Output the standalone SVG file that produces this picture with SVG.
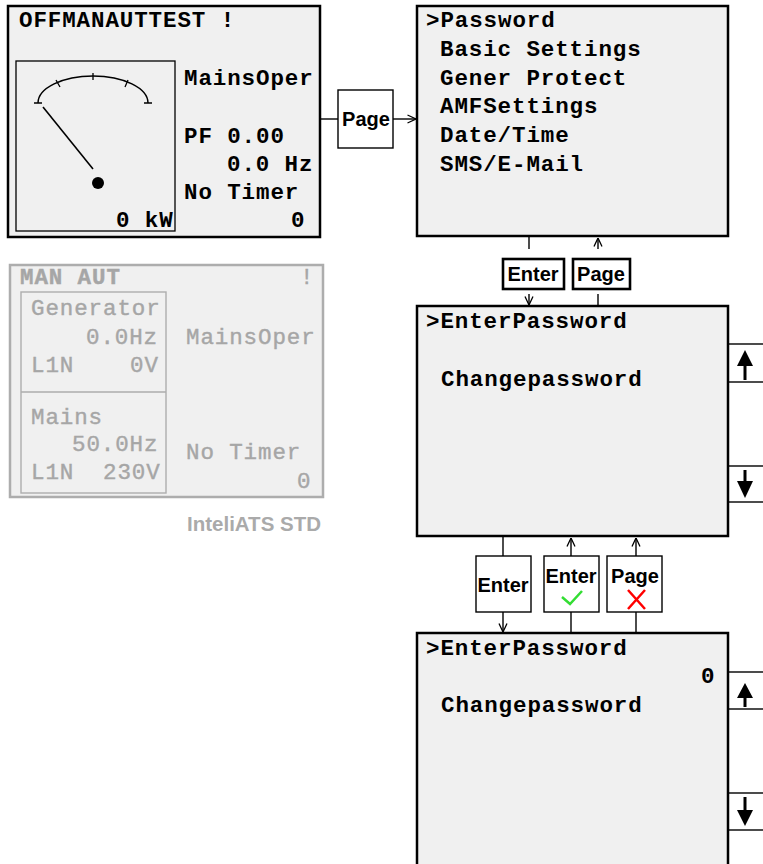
<svg xmlns="http://www.w3.org/2000/svg" width="763" height="864" viewBox="0 0 763 864">
<style>
.lcd{font-family:"Liberation Mono",monospace;font-weight:bold;font-size:22.5px;letter-spacing:0.9px;fill:#000}
.gry{font-family:"Liberation Mono",monospace;font-weight:normal;font-size:22.5px;letter-spacing:0.9px;fill:#a6a6a6;stroke:#a6a6a6;stroke-width:0.4}
.panel{fill:#f0f0f0;stroke:#000;stroke-width:2.5}
.btn{fill:#fff;stroke:#000;stroke-width:1.4}
.btnk{fill:#fff;stroke:#000;stroke-width:2.6}
.bt{font-family:"Liberation Sans",Arial,sans-serif;font-weight:bold;font-size:20px;fill:#000;text-anchor:middle}
.ln{stroke:#000;stroke-width:1.4;fill:none}
.side{fill:#fff;stroke:#000;stroke-width:1.4}
</style>
<defs>
<marker id="ah" viewBox="0 0 10 10" refX="9.5" refY="5" markerWidth="10" markerHeight="10" markerUnits="userSpaceOnUse" orient="auto">
<path d="M1,1 L9.5,5 L1,9" fill="none" stroke="#000" stroke-width="1.3"/>
</marker>
</defs>
<rect width="763" height="864" fill="#fff"/>

<g id="main-screen">
<rect class="panel" x="8" y="6" width="312" height="231"/>
<text class="lcd" x="19" y="27">OFFMANAUTTEST !</text>
<rect x="16" y="61" width="159" height="170" fill="none" stroke="#000" stroke-width="1.3"/>
<path d="M38,103 A55,27 0 0 1 148,103" fill="none" stroke="#000" stroke-width="1.5"/>
<path d="M34,103 H42 M144,103 H152 M93,73 V80 M56,80 L60,87 M128,80 L125,87" stroke="#000" stroke-width="1.3" fill="none"/>
<line x1="43" y1="107" x2="93" y2="169" stroke="#000" stroke-width="1.6"/>
<circle cx="98" cy="183" r="6" fill="#000"/>
<text class="lcd" x="116" y="227">0 kW</text>
<text class="lcd" x="184" y="85">MainsOper</text>
<text class="lcd" x="184" y="143">PF 0.00</text>
<text class="lcd" x="227" y="171">0.0 Hz</text>
<text class="lcd" x="184" y="199">No Timer</text>
<text class="lcd" x="291" y="227">0</text>
</g>

<g id="inteliats-screen">
<rect x="10" y="265" width="313" height="232" fill="#f0f0f0" stroke="#adadad" stroke-width="2.5"/>
<rect x="21" y="292" width="145" height="201" fill="none" stroke="#adadad" stroke-width="1.4"/>
<line x1="21" y1="392" x2="166" y2="392" stroke="#adadad" stroke-width="1.4"/>
<text class="gry" x="20" y="284" style="font-weight:bold">MAN AUT</text>
<text class="gry" x="300" y="284">!</text>
<text class="gry" x="31" y="315">Generator</text>
<text class="gry" x="86" y="344">0.0Hz</text>
<text class="gry" x="31" y="372">L1N</text>
<text class="gry" x="130" y="372">0V</text>
<text class="gry" x="31" y="424">Mains</text>
<text class="gry" x="72" y="451">50.0Hz</text>
<text class="gry" x="31" y="479">L1N</text>
<text class="gry" x="103" y="479">230V</text>
<text class="gry" x="186" y="344">MainsOper</text>
<text class="gry" x="186" y="459">No Timer</text>
<text class="gry" x="297" y="488">0</text>
<text x="321" y="531" font-family="Liberation Sans,Arial,sans-serif" font-weight="bold" font-size="20.5" fill="#aaaaaa" text-anchor="end">InteliATS STD</text>
</g>

<g id="menu-screen">
<rect class="panel" x="417" y="6" width="311" height="230"/>
<text class="lcd" x="426" y="27">&gt;Password</text>
<text class="lcd" x="440" y="56">Basic Settings</text>
<text class="lcd" x="440" y="85">Gener Protect</text>
<text class="lcd" x="440" y="113">AMFSettings</text>
<text class="lcd" x="440" y="142">Date/Time</text>
<text class="lcd" x="440" y="171">SMS/E-Mail</text>
</g>

<g id="password-screen">
<rect x="728" y="344" width="50" height="38" class="side"/>
<rect x="728" y="466" width="50" height="36" class="side"/>
<rect class="panel" x="417" y="306" width="311" height="230"/>
<path d="M745,350 L737,366 L753,366 Z" fill="#000"/>
<line x1="745" y1="365" x2="745" y2="380" stroke="#000" stroke-width="3"/>
<line x1="745" y1="470" x2="745" y2="482" stroke="#000" stroke-width="3"/>
<path d="M745,498 L737,481 L753,481 Z" fill="#000"/>
<text class="lcd" x="426" y="328">&gt;EnterPassword</text>
<text class="lcd" x="441" y="386">Changepassword</text>
</g>

<g id="password-entry-screen">
<rect x="728" y="672" width="50" height="37" class="side"/>
<rect x="728" y="793" width="50" height="37" class="side"/>
<rect class="panel" x="417" y="633" width="311" height="250"/>
<path d="M745,683 L737,698 L753,698 Z" fill="#000"/>
<line x1="745" y1="697" x2="745" y2="707" stroke="#000" stroke-width="3"/>
<line x1="745" y1="797" x2="745" y2="811" stroke="#000" stroke-width="3"/>
<path d="M745,826 L737,810 L753,810 Z" fill="#000"/>
<text class="lcd" x="426" y="655">&gt;EnterPassword</text>
<text class="lcd" x="701" y="683">0</text>
<text class="lcd" x="441" y="712">Changepassword</text>
</g>

<g id="btn-page-1">
<rect class="btn" x="338" y="90" width="55" height="58"/>
<text class="bt" x="366" y="126">Page</text>
</g>
<g id="btn-enter-1">
<rect class="btnk" x="503" y="259" width="61" height="30"/>
<text class="bt" x="533" y="281">Enter</text>
</g>
<g id="btn-page-2">
<rect class="btnk" x="573" y="259" width="57" height="30"/>
<text class="bt" x="601" y="281">Page</text>
</g>
<g id="btn-enter-2">
<rect class="btn" x="476" y="556" width="55" height="56"/>
<text class="bt" x="503" y="592">Enter</text>
</g>
<g id="btn-enter-ok">
<rect class="btn" x="544" y="556" width="55" height="56"/>
<text class="bt" x="571" y="583">Enter</text>
<path d="M562,597 L570,604 L582,591" fill="none" stroke="#33dd33" stroke-width="2.5"/>
</g>
<g id="btn-page-cancel">
<rect class="btn" x="607" y="556" width="55" height="56"/>
<text class="bt" x="635" y="583">Page</text>
<path d="M628,590 L645,609 M645,590 L628,609" fill="none" stroke="#ff0000" stroke-width="2.5"/>
</g>

<g id="connectors">
<line class="ln" x1="320" y1="119" x2="338" y2="119"/>
<line class="ln" x1="393" y1="119" x2="416" y2="119" marker-end="url(#ah)"/>
<line class="ln" x1="529" y1="237" x2="529" y2="249"/>
<line class="ln" x1="529" y1="294" x2="529" y2="305" marker-end="url(#ah)"/>
<line class="ln" x1="598" y1="306" x2="598" y2="294"/>
<line class="ln" x1="598" y1="249" x2="598" y2="238" marker-end="url(#ah)"/>
<line class="ln" x1="503" y1="537" x2="503" y2="556"/>
<line class="ln" x1="503" y1="612" x2="503" y2="632" marker-end="url(#ah)"/>
<line class="ln" x1="571" y1="556" x2="571" y2="538" marker-end="url(#ah)"/>
<line class="ln" x1="571" y1="612" x2="571" y2="633"/>
<line class="ln" x1="636" y1="556" x2="636" y2="538" marker-end="url(#ah)"/>
<line class="ln" x1="636" y1="612" x2="636" y2="633"/>
</g>
</svg>
